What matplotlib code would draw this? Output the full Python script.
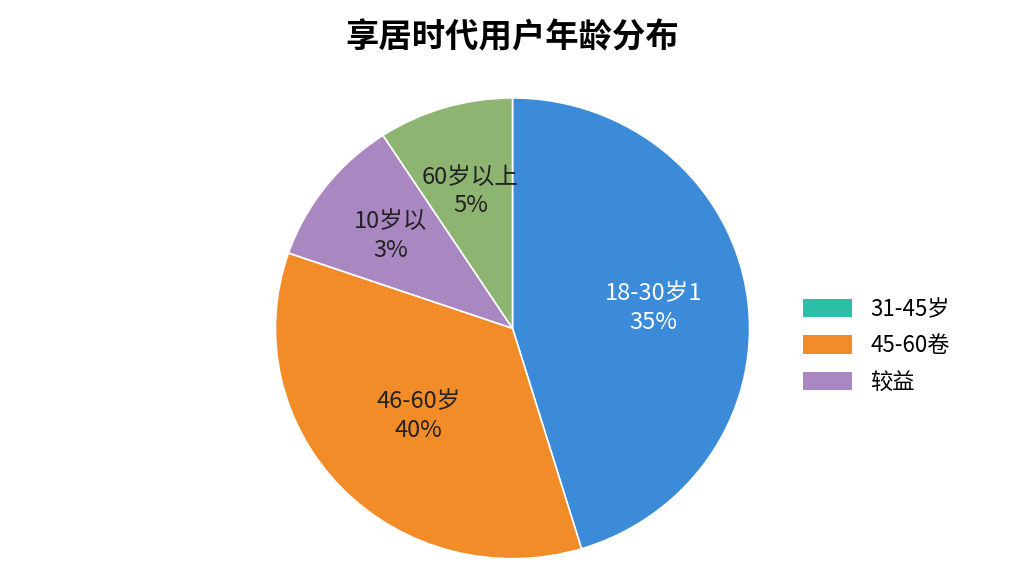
import matplotlib
matplotlib.use("Agg")
import matplotlib.pyplot as plt
from matplotlib.patches import Patch
import numpy as np

plt.rcParams['font.family'] = ['Noto Sans CJK SC', 'DejaVu Sans']

slice_labels = ["18-30岁1\n35%", "46-60岁\n40%", "10岁以\n3%", "60岁以上\n5%"]
slice_sizes = [45.3, 35.0, 10.5, 9.2]
slice_colors = ["#3b8bd9", "#f28c28", "#a987c1", "#8db471"]
label_colors = ["white", "#222222", "#222222", "#222222"]
legend_labels = ["31-45岁", "45-60卷", "较益"]
legend_colors = ["#2bbfa8", "#f28c28", "#a987c1"]

fig = plt.figure(figsize=(10.24, 5.76), dpi=100)
ax = fig.add_axes([0.269, 0.03, 0.463, 0.8])
wedges, texts = ax.pie(slice_sizes, colors=slice_colors, startangle=90, counterclock=False,
                       wedgeprops=dict(edgecolor="white", linewidth=1.2))
ax.set_xlim(-1, 1)
ax.set_ylim(-1, 1)
ax.set_aspect("auto")
label_r = [0.6, 0.55, 0.65, 0.62]
for w, lab, c, r in zip(wedges, slice_labels, label_colors, label_r):
    ang = np.deg2rad((w.theta1 + w.theta2) / 2)
    ax.text(r * np.cos(ang), r * np.sin(ang), lab, ha="center", va="center",
            fontsize=17, color=c, linespacing=1.3)
fig.text(0.5, 0.934, "享居时代用户年龄分布", ha="center", va="center", fontsize=24, fontweight="bold")
handles = [Patch(facecolor=c, label=l) for c, l in zip(legend_colors, legend_labels)]
fig.legend(handles=handles, loc="center left", bbox_to_anchor=(0.765, 0.4), frameon=False,
           fontsize=16, handlelength=2.2, handleheight=0.9, labelspacing=0.6)
fig.savefig("out.png", dpi=100, facecolor="white")
